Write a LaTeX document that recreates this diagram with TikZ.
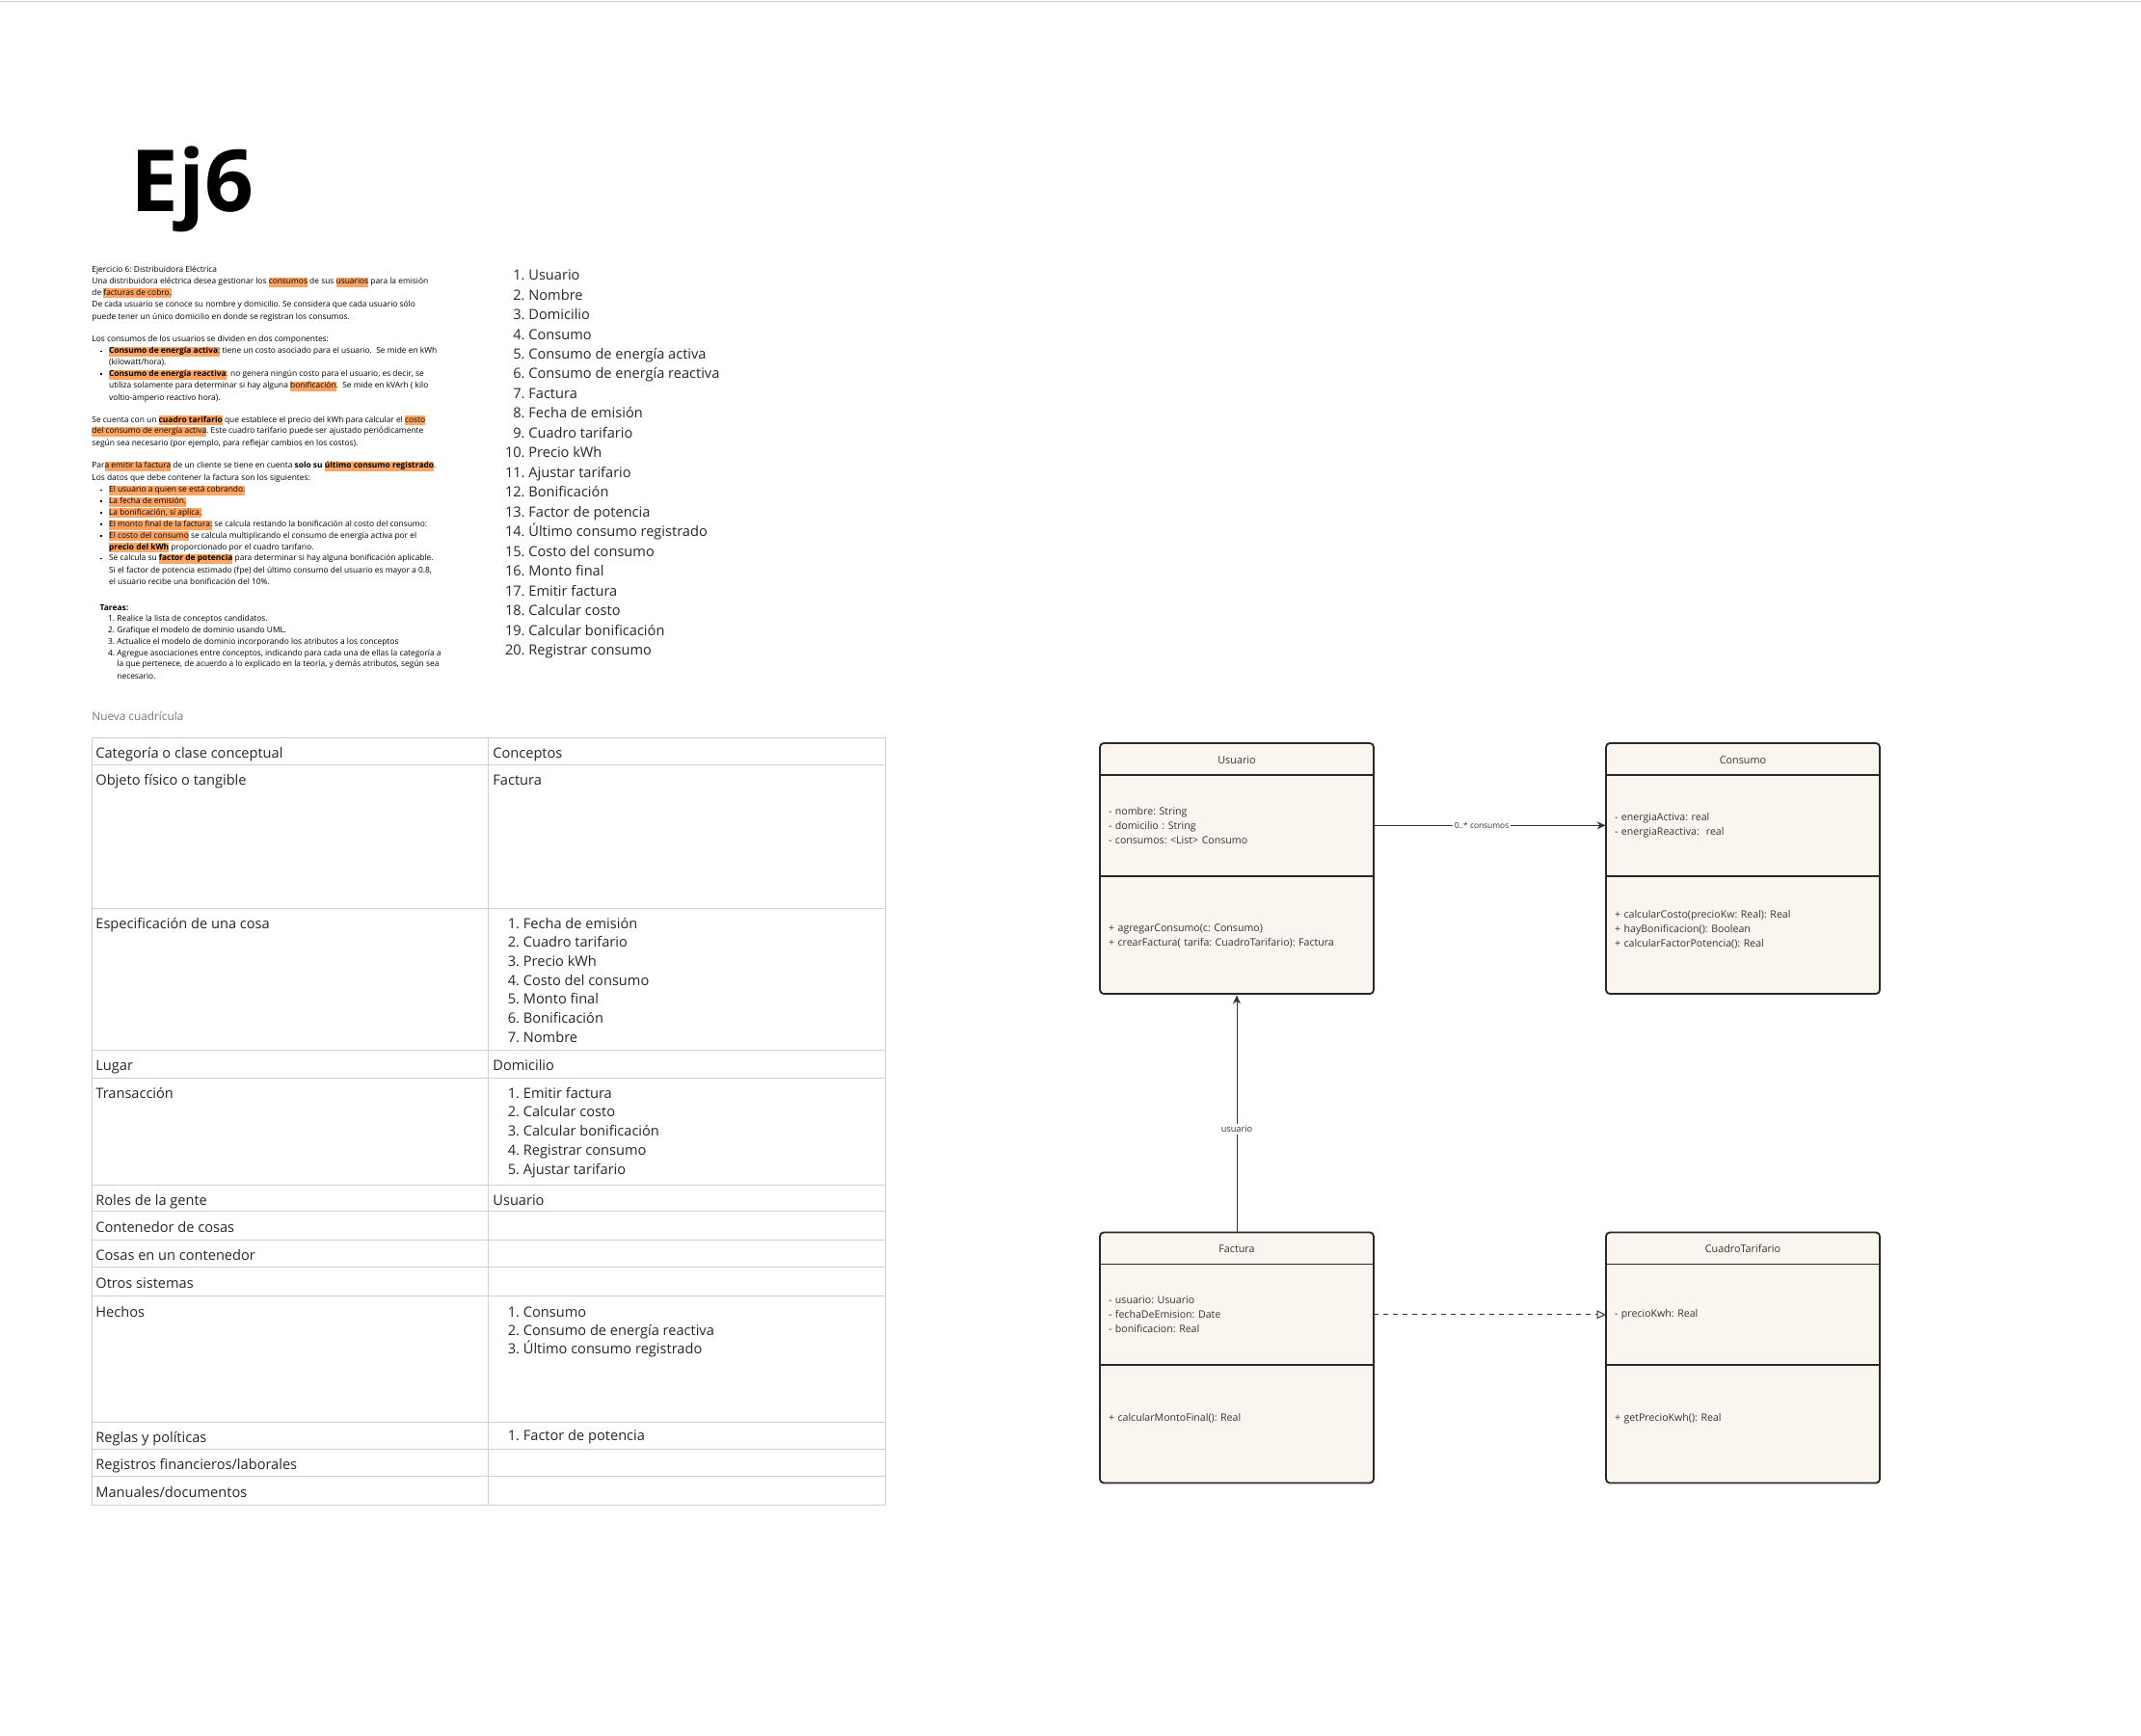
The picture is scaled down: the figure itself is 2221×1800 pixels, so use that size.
\documentclass[tikz,border=0pt]{standalone}
\usepackage{fontspec}
\setmainfont{Open Sans}
\frenchspacing
\usetikzlibrary{positioning}
\usetikzlibrary{arrows.meta}
\definecolor{hlor}{RGB}{255,165,100}
\definecolor{umlfill}{RGB}{250,246,239}
\definecolor{umlline}{RGB}{40,40,40}
\definecolor{umltext}{RGB}{51,51,51}
\definecolor{gridc}{RGB}{208,208,208}
\definecolor{gr}{RGB}{120,120,120}
% orange marker and bullet
\newcommand{\hlt}[1]{{\setlength{\fboxsep}{0pt}\colorbox{hlor}{\rule[-1.5pt]{0pt}{4.9pt}#1}}}
\newcommand{\bul}{\llap{\rule[0.7pt]{0.9pt}{0.9pt}\hspace{3.4pt}}}

\tikzset{
  desc/.style={anchor=base west, inner sep=0pt, font=\fontsize{4.2}{5.9}\selectfont},
  lst/.style={anchor=base west, inner sep=0pt, font=\fontsize{7.3}{9}\selectfont, text=black!85},
  gridline/.style={draw=gridc, line width=0.5pt},
  umlbox/.style={draw=umlline, fill=umlfill, line width=0.9pt, rounded corners=2pt,
    minimum width=142pt, minimum height=130pt, inner sep=0pt},
  umlhead/.style={minimum width=142pt, minimum height=16.5pt, inner sep=0pt,
    text height=5.2pt, text depth=0pt, font=\fontsize{5.4}{7.5}\selectfont, text=umltext},
  umlattr/.style={minimum height=52pt, inner xsep=4.5pt, inner ysep=0pt, text width=133pt,
    align=left, font=\fontsize{5.3}{7.5}\selectfont, text=umltext},
  umlmeth/.style={umlattr, minimum height=61.5pt},
  umlsep/.style={draw=umlline, line width=0.8pt},
  assoc/.style={draw=umltext, line width=0.5pt, -{Stealth[length=4.5pt,width=4pt]}},
  dep/.style={draw=umltext, line width=0.5pt, dash pattern=on 2.5pt off 2.5pt,
    -{Triangle[open,length=4.5pt,width=4.5pt]}},
  lbl/.style={fill=white, inner sep=1pt, font=\fontsize{4.2}{5}\selectfont, text=umltext}
}

\begin{document}
\begin{tikzpicture}[x=0.5pt, y=-0.5pt]
    \fill[white] (0,0) rectangle (2221,1800);
    \useasboundingbox (0,0) rectangle (2221,1800);
    \draw[gridc, line width=0.5pt] (0,1) -- (2221,1);

    % title
    \node[anchor=base west, inner sep=0pt, font=\fontsize{44.5}{50}\selectfont\bfseries] (title) at (135,219) {Ej6};

    % enunciado
    \node[desc] (d1) at (95,282.5) {Ejercicio 6: Distribuidora Eléctrica};
    \node[desc] (d2) at (95,294.8) {Una distribuidora eléctrica desea gestionar los \hlt{consumos} de sus \hlt{usuarios} para la emisión};
    \node[desc] (d3) at (95,306.2) {de \hlt{facturas de cobro.}};
    \node[desc] (d4) at (95,318.5) {De cada usuario se conoce su nombre y domicilio. Se considera que cada usuario sólo};
    \node[desc] (d5) at (95,331.2) {puede tener un único domicilio en donde se registran los consumos.};
    \node[desc] (d6) at (95,354.8) {Los consumos de los usuarios se dividen en dos componentes:};
    \node[desc] (d7) at (112.7,366.8) {\bul\hlt{\textbf{Consumo de energía activa}:} tiene un costo asociado para el usuario.\ \ Se mide en kWh};
    \node[desc] (d8) at (112.7,378.8) {(kilowatt/hora).};
    \node[desc] (d9) at (112.7,390.5) {\bul\hlt{\textbf{Consumo de energía reactiva}}: no genera ningún costo para el usuario, es decir, se};
    \node[desc] (d10) at (112.7,402.5) {utiliza solamente para determinar si hay alguna \hlt{bonificación}.\ \ Se mide en kVArh ( kilo};
    \node[desc] (d11) at (112.7,415.2) {voltio-amperio reactivo hora).};
    \node[desc] (d12) at (95,438.2) {Se cuenta con un \hlt{\textbf{cuadro tarifario}} que establece el precio del kWh para calcular el \hlt{costo}};
    \node[desc] (d13) at (95,449.7) {\hlt{del consumo de energía activa}. Este cuadro tarifario puede ser ajustado periódicamente};
    \node[desc] (d14) at (95,462.5) {según sea necesario (por ejemplo, para reflejar cambios en los costos).};
    \node[desc] (d15) at (95,485.8) {Par\hlt{a emitir la factura} de un cliente se tiene en cuenta \textbf{solo su \hlt{último consumo registrado}}.};
    \node[desc] (d16) at (95,498.5) {Los datos que debe contener la factura son los siguientes:};
    \node[desc] (d17) at (112.7,510.8) {\bul\hlt{El usuario a quien se está cobrando.}};
    \node[desc] (d18) at (112.7,522.5) {\bul\hlt{La fecha de emisión.}};
    \node[desc] (d19) at (112.7,534.2) {\bul\hlt{La bonificación, sí aplica.}};
    \node[desc] (d20) at (112.7,546.5) {\bul\hlt{El monto final de la factura:} se calcula restando la bonificación al costo del consumo:};
    \node[desc] (d21) at (112.7,558.2) {\bul\hlt{El costo del consumo} se calcula multiplicando el consumo de energía activa por el};
    \node[desc] (d22) at (112.7,570.2) {\hlt{\textbf{precio del kWh}} proporcionado por el cuadro tarifario.};
    \node[desc] (d23) at (112.7,581.8) {\bul Se calcula su \hlt{\textbf{factor de potencia}} para determinar si hay alguna bonificación aplicable.};
    \node[desc] (d24) at (112.7,594.5) {Si el factor de potencia estimado (fpe) del último consumo del usuario es mayor a 0.8,};
    \node[desc] (d25) at (112.7,606.5) {el usuario recibe una bonificación del 10\%.};
    \node[desc] (d26) at (103.3,633.2) {\textbf{Tareas:}};
    \node[desc] (d27) at (121,644.8) {\llap{1.\ }Realice la lista de conceptos candidatos.};
    \node[desc] (d28) at (121,656.5) {\llap{2.\ }Grafique el modelo de dominio usando UML.};
    \node[desc] (d29) at (121,668.5) {\llap{3.\ }Actualice el modelo de dominio incorporando los atributos a los conceptos};
    \node[desc] (d30) at (121,680.2) {\llap{4.\ }Agregue asociaciones entre conceptos, indicando para cada una de ellas la categoría a};
    \node[desc] (d31) at (121,691.8) {la que pertenece, de acuerdo a lo explicado en la teoría, y demás atributos, según sea};
    \node[desc] (d32) at (121,704.2) {necesario.};

    % conceptos candidatos
    \foreach \t [count=\i] in {Usuario, Nombre, Domicilio, Consumo, Consumo de energía activa,
        Consumo de energía reactiva, Factura, Fecha de emisión, Cuadro tarifario, Precio kWh,
        Ajustar tarifario, Bonificación, Factor de potencia, Último consumo registrado,
        Costo del consumo, Monto final, Emitir factura, Calcular costo, Calcular bonificación,
        Registrar consumo}
        \node[lst] (c\i) at (548,{290.6+20.47*(\i-1)}) {\llap{\i.\ }\t};

    % tabla de categorias
    \node[anchor=base west, inner sep=0pt, font=\fontsize{5.9}{7}\selectfont, text=gr] (grid) at (95,747.5) {Nueva cuadrícula};
    \draw[gridline] (95,765) rectangle (918,1561);
    \draw[gridline] (506,765) -- (506,1561);
    \foreach \r in {793,942,1089,1118,1229,1256,1286,1314,1344,1475,1503,1531}
        \draw[gridline] (95,\r) -- (918,\r);
    \node[lst] (k1) at (99,786) {Categoría o clase conceptual};
    \node[lst] (k2) at (99,814) {Objeto físico o tangible};
    \node[lst] (k3) at (99,963) {Especificación de una cosa};
    \node[lst] (k4) at (99,1110) {Lugar};
    \node[lst] (k5) at (99,1139) {Transacción};
    \node[lst] (k6) at (99,1250) {Roles de la gente};
    \node[lst] (k7) at (99,1278) {Contenedor de cosas};
    \node[lst] (k8) at (99,1307) {Cosas en un contenedor};
    \node[lst] (k9) at (99,1336) {Otros sistemas};
    \node[lst] (k10) at (99,1366) {Hechos};
    \node[lst] (k11) at (99,1496) {Reglas y políticas};
    \node[lst] (k12) at (99,1524) {Registros financieros/laborales};
    \node[lst] (k13) at (99,1553) {Manuales/documentos};
    \node[lst] (v1) at (511,786) {Conceptos};
    \node[lst] (v2) at (511,814) {Factura};
    \node[lst] (v4) at (511,1110) {Domicilio};
    \node[lst] (v6) at (511,1250) {Usuario};
    \foreach \t [count=\i] in {Fecha de emisión, Cuadro tarifario, Precio kWh, Costo del consumo,
        Monto final, Bonificación, Nombre}
        \node[lst] (e\i) at (542.5,{963+19.7*(\i-1)}) {\llap{\i.\ }\t};
    \foreach \t [count=\i] in {Emitir factura, Calcular costo, Calcular bonificación,
        Registrar consumo, Ajustar tarifario}
        \node[lst] (t\i) at (542.5,{1139+19.8*(\i-1)}) {\llap{\i.\ }\t};
    \foreach \t [count=\i] in {Consumo, Consumo de energía reactiva, Último consumo registrado}
        \node[lst] (h\i) at (542.5,{1366+19.4*(\i-1)}) {\llap{\i.\ }\t};
    \node[lst] (r1) at (542.5,1494) {\llap{1.\ }Factor de potencia};

    % modelo de dominio
    \node[umlbox] (usr) at (1283,901) {};
    \node[umlhead, below=0pt of usr.north] (usrH) {Usuario};
    \node[umlattr, below=0pt of usrH] (usrA) {- nombre: String\\- domicilio : String\\- consumos: <List> Consumo};
    \node[umlmeth, below=0pt of usrA] (usrM) {+ agregarConsumo(c: Consumo)\\+ crearFactura( tarifa: CuadroTarifario): Factura};
    \draw[umlsep] (usrH.south west) -- (usrH.south east);
    \draw[umlsep] (usrA.south west) -- (usrA.south east);

    \node[umlbox] (con) at (1808,901) {};
    \node[umlhead, below=0pt of con.north] (conH) {Consumo};
    \node[umlattr, below=0pt of conH] (conA) {- energiaActiva: real\\- energiaReactiva:\ \ real};
    \node[umlmeth, below=0pt of conA] (conM) {+ calcularCosto(precioKw: Real): Real\\+ hayBonificacion(): Boolean\\+ calcularFactorPotencia(): Real\\\mbox{}};
    \draw[umlsep] (conH.south west) -- (conH.south east);
    \draw[umlsep] (conA.south west) -- (conA.south east);

    \node[umlbox] (fac) at (1283,1408.5) {};
    \node[umlhead, below=0pt of fac.north] (facH) {Factura};
    \node[umlattr, below=0pt of facH] (facA) {- usuario: Usuario\\- fechaDeEmision: Date\\- bonificacion: Real};
    \node[umlmeth, below=0pt of facA] (facM) {+ calcularMontoFinal(): Real\\\mbox{}};
    \draw[umlsep] (facH.south west) -- (facH.south east);
    \draw[umlsep] (facA.south west) -- (facA.south east);

    \node[umlbox] (tar) at (1808,1408.5) {};
    \node[umlhead, below=0pt of tar.north] (tarH) {CuadroTarifario};
    \node[umlattr, below=0pt of tarH] (tarA) {- precioKwh: Real};
    \node[umlmeth, below=0pt of tarA] (tarM) {+ getPrecioKwh(): Real\\\mbox{}};
    \draw[umlsep] (tarH.south west) -- (tarH.south east);
    \draw[umlsep] (tarA.south west) -- (tarA.south east);

    % asociaciones
    \draw[assoc] (usrA) -- node[lbl, pos=0.465] (l1) {0..* consumos} (conA);
    \draw[assoc] (facH) -- node[lbl, pos=0.433, font=\fontsize{4.6}{5}\selectfont] (l2) {usuario} (usrM);
    \draw[dep] (facA) -- (tarA);
\end{tikzpicture}
\end{document}
